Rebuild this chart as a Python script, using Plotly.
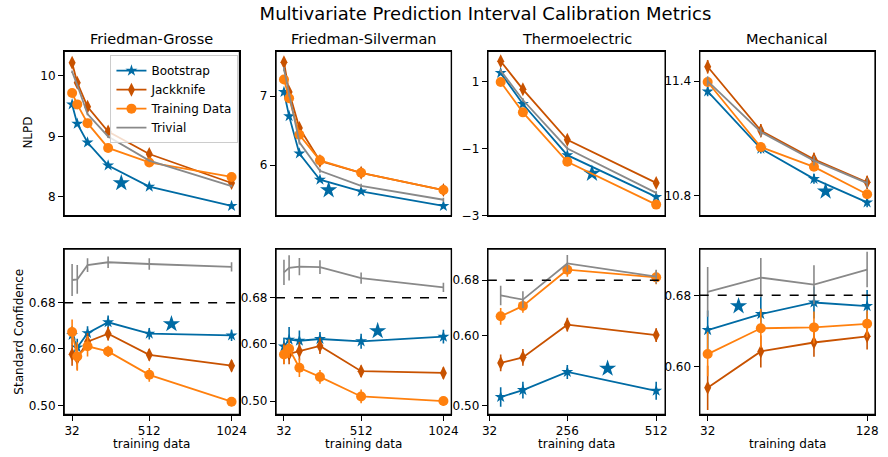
import plotly.graph_objects as go

# ---------------- data ----------------
methods = ["Bootstrap", "Jackknife", "Training Data", "Trivial"]
datasets = ["Friedman-Grosse", "Friedman-Silverman", "Thermoelectric", "Mechanical"]

x_fg = [32, 64, 128, 256, 512, 1024]
x_fs = [32, 64, 128, 256, 512, 1024]
x_te = [64, 128, 256, 512]
x_me = [32, 64, 96, 128]

# NLPD (top row)
nlpd_fg = {
    "Bootstrap":     [9.53, 9.21, 8.90, 8.52, 8.17, 7.85],
    "Jackknife":     [10.22, 9.89, 9.49, 9.08, 8.71, 8.23],
    "Training Data": [9.72, 9.53, 9.22, 8.81, 8.57, 8.33],
    "Trivial":       [10.07, 9.85, 9.37, 9.00, 8.60, 8.18],
}
nlpd_fs = {
    "Bootstrap":     [7.06, 6.71, 6.17, 5.79, 5.62, 5.41],
    "Jackknife":     [7.49, 7.06, 6.54, 6.06, 5.89, 5.64],
    "Training Data": [7.24, 6.97, 6.44, 6.07, 5.89, 5.64],
    "Trivial":       [7.39, 7.02, 6.33, 5.92, 5.70, 5.50],
}
nlpd_te = {
    "Bootstrap":     [1.27, 0.34, -1.19, -2.44],
    "Jackknife":     [1.62, 0.78, -0.73, -2.02],
    "Training Data": [1.00, 0.09, -1.39, -2.67],
    "Trivial":       [1.34, 0.46, -0.99, -2.32],
}
nlpd_me = {
    "Bootstrap":     [11.346, 11.047, 10.889, 10.766],
    "Jackknife":     [11.475, 11.141, 10.991, 10.871],
    "Training Data": [11.395, 11.055, 10.952, 10.809],
    "Trivial":       [11.400, 11.134, 10.984, 10.867],
}
nlpd_err_fg = {"Bootstrap": 0.02, "Jackknife": 0.03, "Training Data": 0.02, "Trivial": 0.02}
nlpd_err_fs = {"Bootstrap": 0.03, "Jackknife": 0.03, "Training Data": 0.03, "Trivial": 0.03}
nlpd_err_te = {"Bootstrap": 0.05, "Jackknife": 0.06, "Training Data": 0.05, "Trivial": 0.05}
nlpd_err_me = {"Bootstrap": 0.025, "Jackknife": 0.035, "Training Data": 0.02, "Trivial": 0.025}

# Standard confidence (bottom row)
conf_fg = {
    "Bootstrap":     [0.624, 0.602, 0.627, 0.646, 0.626, 0.623],
    "Jackknife":     [0.590, 0.583, 0.612, 0.626, 0.589, 0.570],
    "Training Data": [0.629, 0.586, 0.604, 0.595, 0.554, 0.507],
    "Trivial":       [0.720, 0.721, 0.746, 0.751, 0.748, 0.743],
}
conf_fs = {
    "Bootstrap":     [0.595, 0.607, 0.605, 0.608, 0.604, 0.612],
    "Jackknife":     [0.582, 0.582, 0.587, 0.596, 0.552, 0.549],
    "Training Data": [0.581, 0.591, 0.558, 0.542, 0.508, 0.500],
    "Trivial":       [0.724, 0.732, 0.734, 0.733, 0.714, 0.698],
}
conf_te = {
    "Bootstrap":     [0.512, 0.522, 0.548, 0.521],
    "Jackknife":     [0.561, 0.569, 0.616, 0.601],
    "Training Data": [0.628, 0.643, 0.695, 0.684],
    "Trivial":       [0.658, 0.652, 0.704, 0.685],
}
conf_me = {
    "Bootstrap":     [0.641, 0.659, 0.672, 0.668],
    "Jackknife":     [0.576, 0.617, 0.627, 0.634],
    "Training Data": [0.614, 0.643, 0.644, 0.648],
    "Trivial":       [0.684, 0.700, 0.692, 0.709],
}
conf_err_fg = {
    "Bootstrap":     [0.015, 0.015, 0.012, 0.012, 0.010, 0.010],
    "Jackknife":     [0.020, 0.020, 0.015, 0.012, 0.010, 0.010],
    "Training Data": [0.022, 0.025, 0.018, 0.010, 0.012, 0.008],
    "Trivial":       [0.028, 0.025, 0.012, 0.010, 0.010, 0.008],
}
conf_err_fs = {
    "Bootstrap":     [0.015, 0.022, 0.018, 0.012, 0.013, 0.012],
    "Jackknife":     [0.018, 0.018, 0.016, 0.014, 0.010, 0.010],
    "Training Data": [0.016, 0.016, 0.016, 0.012, 0.012, 0.008],
    "Trivial":       [0.022, 0.022, 0.015, 0.012, 0.010, 0.008],
}
conf_err_te = {
    "Bootstrap":     [0.014, 0.012, 0.010, 0.013],
    "Jackknife":     [0.012, 0.012, 0.010, 0.010],
    "Training Data": [0.012, 0.010, 0.010, 0.010],
    "Trivial":       [0.014, 0.012, 0.012, 0.010],
}
conf_err_me = {
    "Bootstrap":     [0.022, 0.020, 0.018, 0.018],
    "Jackknife":     [0.025, 0.018, 0.016, 0.015],
    "Training Data": [0.025, 0.022, 0.018, 0.015],
    "Trivial":       [0.028, 0.022, 0.022, 0.020],
}

# highlighted single result (big star)
star_nlpd_x = [338, 310, 327, 103]
star_nlpd_y = [8.23, 5.64, -1.74, 10.824]
star_conf_x = [650, 615, 372, 50.6]
star_conf_y = [0.643, 0.622, 0.553, 0.668]

reference_level = 0.68

x_ticks = [[32, 512, 1024], [32, 512, 1024], [32, 256, 512], [32, 128]]
nlpd_ticks = [[8, 9, 10], [6, 7], [-3, -1, 1], [10.8, 11.4]]
nlpd_ticktext = [["8", "9", "10"], ["6", "7"], ["\u22123", "\u22121", "1"], ["10.8", "11.4"]]
conf_ticks = [[0.50, 0.60, 0.68], [0.50, 0.60, 0.68], [0.50, 0.60, 0.68], [0.60, 0.68]]

# ---------------- style ----------------
colors = {"Bootstrap": "#006BA4", "Jackknife": "#C85200",
          "Training Data": "#FF800E", "Trivial": "#898989"}
symbols = {"Bootstrap": "star", "Jackknife": "diamond-tall",
           "Training Data": "circle", "Trivial": None}
msizes = {"Bootstrap": 9, "Jackknife": 10, "Training Data": 10, "Trivial": 0}

W, H = 888, 457
col_px = [(59, 237), (274, 452), (489, 669), (704, 882)]
row_px = [(52, 219), (253, 421)]
xranges = [[-17.6, 1073.6], [-17.6, 1073.6], [27, 538], [27.2, 132.8]]
yr_top = [[7.69, 10.41], [5.27, 7.65], [-3.0, 1.92], [10.697, 11.556]]
yr_bot = [[0.4845, 0.774], [0.4765, 0.7645], [0.4868, 0.7246], [0.546, 0.732]]

FONT = "DejaVu Sans"
fig = go.Figure()

xs = [x_fg, x_fs, x_te, x_me]
nlpd = [nlpd_fg, nlpd_fs, nlpd_te, nlpd_me]
nlpd_err = [nlpd_err_fg, nlpd_err_fs, nlpd_err_te, nlpd_err_me]
conf = [conf_fg, conf_fs, conf_te, conf_me]
conf_err = [conf_err_fg, conf_err_fs, conf_err_te, conf_err_me]

layout_axes = {}
for r in range(2):
    for c in range(4):
        idx = r * 4 + c + 1
        xa = "x" if idx == 1 else f"x{idx}"
        ya = "y" if idx == 1 else f"y{idx}"
        xkey = "xaxis" if idx == 1 else f"xaxis{idx}"
        ykey = "yaxis" if idx == 1 else f"yaxis{idx}"
        x0, x1 = col_px[c]
        y0, y1 = row_px[r]
        common = dict(showline=True, mirror=True, linecolor="black", linewidth=1.3,
                      showgrid=False, zeroline=False, ticklen=5,
                      tickwidth=1, tickcolor="black",
                      tickfont=dict(family=FONT, size=12, color="black"))
        layout_axes[xkey] = dict(common, domain=[x0 / W, x1 / W], anchor=ya,
                                 range=xranges[c], tickvals=x_ticks[c],
                                 showticklabels=(r == 1), ticks=("outside" if r == 1 else ""))
        if r == 0:
            layout_axes[ykey] = dict(common, domain=[1 - y1 / H, 1 - y0 / H], anchor=xa,
                                     range=yr_top[c], tickvals=nlpd_ticks[c],
                                     ticktext=nlpd_ticktext[c], ticks="outside")
        else:
            layout_axes[ykey] = dict(common, domain=[1 - y1 / H, 1 - y0 / H], anchor=xa,
                                     range=yr_bot[c], tickvals=conf_ticks[c],
                                     tickformat=".2f", ticks="outside")

        vals = nlpd[c] if r == 0 else conf[c]
        errs = nlpd_err[c] if r == 0 else conf_err[c]
        for m in methods:
            e = errs[m]
            earr = e if isinstance(e, list) else [e] * len(xs[c])
            mk = dict(color=colors[m], size=msizes[m])
            if symbols[m]:
                mk["symbol"] = symbols[m]
            fig.add_trace(go.Scatter(
                x=xs[c], y=vals[m], xaxis=xa, yaxis=ya,
                mode="lines+markers" if symbols[m] else "lines",
                name=m, legendgroup=m, showlegend=(idx == 1),
                line=dict(color=colors[m], width=1.8),
                marker=mk,
                error_y=dict(type="data", array=earr, visible=True,
                             color=colors[m], thickness=1.6, width=0),
            ))
            if m == "Bootstrap":
                sx = star_nlpd_x[c] if r == 0 else star_conf_x[c]
                sy = star_nlpd_y[c] if r == 0 else star_conf_y[c]
                fig.add_trace(go.Scatter(
                    x=[sx], y=[sy], xaxis=xa, yaxis=ya, mode="markers",
                    showlegend=False,
                    marker=dict(symbol="star", size=13, color=colors["Bootstrap"]),
                ))
        if r == 1:
            fig.add_shape(type="line", xref=f"{xa} domain", yref=ya,
                          x0=0, x1=1, y0=reference_level, y1=reference_level,
                          line=dict(color="black", width=1.5, dash="dash"))
        # panel frame
        fig.add_shape(type="rect", xref=f"{xa} domain", yref=f"{ya} domain",
                      x0=0, x1=1, y0=0, y1=1, layer="above",
                      line=dict(color="black", width=1.4), fillcolor="rgba(0,0,0,0)")

annotations = []
for c in range(4):
    cx = (col_px[c][0] + col_px[c][1]) / 2 / W
    annotations.append(dict(text=datasets[c], x=cx, y=1 - 40 / H, xref="paper", yref="paper",
                            showarrow=False, xanchor="center", yanchor="middle",
                            font=dict(family=FONT, size=14.5, color="black")))
    annotations.append(dict(text="training data", x=cx, y=1 - 451 / H, xref="paper", yref="paper",
                            showarrow=False, xanchor="center", yanchor="middle",
                            font=dict(family=FONT, size=12, color="black")))
annotations.append(dict(text="NLPD", x=22 / W, y=1 - 135 / H, xref="paper", yref="paper",
                        showarrow=False, textangle=-90, xanchor="center", yanchor="middle",
                        font=dict(family=FONT, size=12, color="black")))
annotations.append(dict(text="Standard Confidence", x=13 / W, y=1 - 337 / H, xref="paper",
                        yref="paper", showarrow=False, textangle=-90, xanchor="center",
                        yanchor="middle", font=dict(family=FONT, size=12, color="black")))

fig.update_layout(
    width=W, height=H,
    margin=dict(l=0, r=0, t=0, b=0),
    paper_bgcolor="white", plot_bgcolor="white",
    title=dict(text="Multivariate Prediction Interval Calibration Metrics",
               x=485.5 / W, y=1 - 14 / H, xanchor="center", yanchor="middle",
               font=dict(family=FONT, size=18, color="black")),
    annotations=annotations,
    legend=dict(x=106 / W, y=1 - 56 / H, xanchor="left", yanchor="top",
                bgcolor="rgba(255,255,255,0.8)", bordercolor="#cccccc", borderwidth=1,
                font=dict(family=FONT, size=12, color="black"),
                tracegroupgap=0, itemwidth=30),
    **layout_axes,
)

page_fix = (
    "var s=[document.documentElement.style, document.body.style];"
    "for (var i=0;i<s.length;i++){s[i].margin='0';s[i].padding='0';"
    "s[i].overflow='hidden';s[i].height='457px';s[i].lineHeight='0';s[i].fontSize='0';}"
)
fig.write_html("out.html", config={"displayModeBar": False}, post_script=page_fix)
